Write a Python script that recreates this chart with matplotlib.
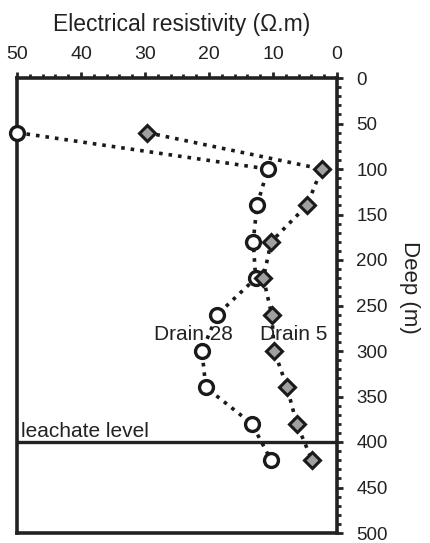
import matplotlib
matplotlib.use("Agg")
import matplotlib.pyplot as plt
from matplotlib.ticker import MultipleLocator

plt.rcParams['font.family'] = ['Liberation Sans', 'DejaVu Sans']

depth = [60, 100, 140, 180, 220, 260, 300, 340, 380, 420]
drain28 = [50, 10.8, 12.5, 13.1, 12.7, 18.7, 21.1, 20.5, 13.3, 10.3]
drain5 = [29.7, 2.4, 4.7, 10.3, 11.5, 10.2, 9.8, 7.8, 6.3, 3.9]
leachate_depth = 400
xticks = [50, 40, 30, 20, 10, 0]
yticks = [0, 50, 100, 150, 200, 250, 300, 350, 400, 450, 500]

fig = plt.figure(figsize=(4.31, 5.43), dpi=100)
ax = fig.add_axes([17 / 431, 10 / 543, 320 / 431, 455 / 543])

ax.plot(drain28, depth, linestyle=':', color='#1a1a1a', linewidth=2.6,
        marker='o', markersize=10, markerfacecolor='white',
        markeredgecolor='#1a1a1a', markeredgewidth=2.4, zorder=3, clip_on=False)
ax.plot(drain5, depth, linestyle=':', color='#1a1a1a', linewidth=2.6,
        marker='D', markersize=8.5, markerfacecolor='#a0a0a0',
        markeredgecolor='#1a1a1a', markeredgewidth=2.2, zorder=3, clip_on=False)

ax.axhline(leachate_depth, color='#222222', linewidth=2.4)

ax.set_xlim(50, 0)
ax.set_ylim(500, 0)

ax.xaxis.tick_top()
ax.yaxis.tick_right()
ax.set_xticks(xticks)
ax.set_yticks(yticks)
ax.xaxis.set_minor_locator(MultipleLocator(2))
ax.yaxis.set_minor_locator(MultipleLocator(10))
ax.tick_params(axis='both', which='major', direction='out', length=4, width=2,
               colors='#222222')
ax.tick_params(axis='x', which='major', labelsize=14, pad=7)
ax.tick_params(axis='y', which='major', labelsize=13.5, pad=10)
ax.tick_params(axis='both', which='minor', direction='out', length=3, width=2,
               colors='#222222')

for s in ax.spines.values():
    s.set_linewidth(2.6)
    s.set_color('#222222')

fig.text(182 / 431, 1 - 24 / 543, 'Electrical resistivity (Ω.m)', fontsize=16.5,
         color='#222222', ha='center', va='center')
fig.text(410 / 431, 1 - 287 / 543, 'Deep (m)', fontsize=16, color='#222222',
         ha='center', va='center', rotation=-90)

ax.text(28.6, 282, 'Drain 28', fontsize=15, color='#222222', va='center', ha='left')
ax.text(12.1, 282, 'Drain 5', fontsize=15, color='#222222', va='center', ha='left')
ax.text(49.3, 389, 'leachate level', fontsize=15, color='#222222', va='center', ha='left')

fig.savefig('out.png', dpi=100)
